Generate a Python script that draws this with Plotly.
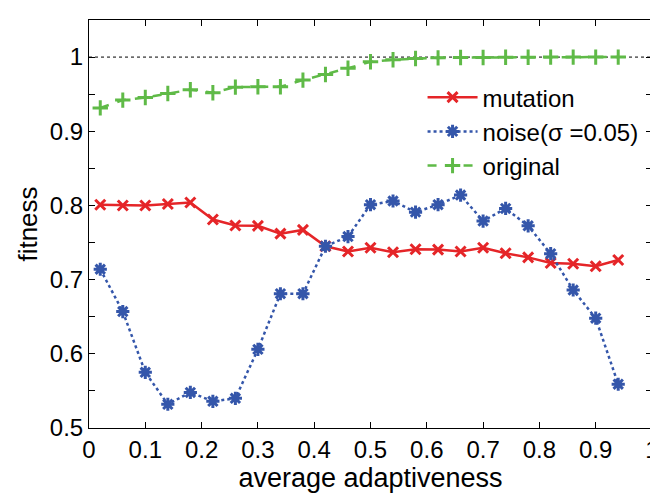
import plotly.graph_objects as go

x_vals = [0.02, 0.06, 0.10, 0.14, 0.18, 0.22, 0.26, 0.30, 0.34, 0.38, 0.42, 0.46,
          0.50, 0.54, 0.58, 0.62, 0.66, 0.70, 0.74, 0.78, 0.82, 0.86, 0.90, 0.94]

mutation = [0.801, 0.800, 0.800, 0.802, 0.804, 0.781, 0.773, 0.7725, 0.762, 0.767, 0.745, 0.738,
            0.743, 0.737, 0.741, 0.7405, 0.738, 0.743, 0.7355, 0.730, 0.7225, 0.7215, 0.718, 0.7265]

noise = [0.714, 0.657, 0.575, 0.532, 0.548, 0.536, 0.540, 0.606, 0.681, 0.681, 0.745, 0.758,
         0.801, 0.806, 0.791, 0.801, 0.814, 0.779, 0.796, 0.7725, 0.735, 0.686, 0.648, 0.559]

original = [0.9315, 0.942, 0.9455, 0.951, 0.956, 0.952, 0.9595, 0.960, 0.960, 0.969, 0.9765, 0.985,
            0.9937, 0.9964, 0.998, 0.999, 0.9995, 0.9995, 0.9998, 0.9998, 1.0, 1.0, 1.0, 1.0]

series_names = ["mutation", "noise(σ =0.05)", "original"]
reference_level = 1.0
x_ticks = [0, 0.1, 0.2, 0.3, 0.4, 0.5, 0.6, 0.7, 0.8, 0.9, 1]
x_tick_text = ["0", "0.1", "0.2", "0.3", "0.4", "0.5", "0.6", "0.7", "0.8", "0.9", "1"]
y_ticks = [0.5, 0.6, 0.7, 0.8, 0.9, 1.0]
y_tick_text = ["0.5", "0.6", "0.7", "0.8", "0.9", "1"]

FONT = "Liberation Sans, Arial, Helvetica, sans-serif"
RED = "#e52528"
BLUE = "#3456aa"
GREEN = "#5fba47"

fig = go.Figure()

fig.add_trace(go.Scatter(
    x=x_vals, y=mutation, name=series_names[0], mode="lines+markers",
    line=dict(color=RED, width=2.5, dash="solid"),
    marker=dict(symbol="x-thin-open", size=10, line=dict(color=RED, width=3)),
))
fig.add_trace(go.Scatter(
    x=x_vals, y=noise, name=series_names[1], mode="lines+markers",
    line=dict(color=BLUE, width=2.5, dash="dot"),
    marker=dict(symbol="asterisk-open", size=11, line=dict(color=BLUE, width=3)),
))
fig.add_trace(go.Scatter(
    x=x_vals, y=original, name=series_names[2], mode="lines+markers",
    line=dict(color=GREEN, width=2.5, dash="dash"),
    marker=dict(symbol="cross-thin-open", size=11, line=dict(color=GREEN, width=3)),
))

fig.add_shape(type="line", xref="paper", yref="y", x0=0, x1=1,
              y0=reference_level, y1=reference_level,
              line=dict(color="black", width=1, dash="dot"), layer="below")

axis_common = dict(
    showgrid=False, zeroline=False, showline=True, linecolor="black", linewidth=1,
    mirror="allticks", ticks="inside", ticklen=6, tickcolor="black", tickwidth=1,
    tickfont=dict(family=FONT, size=24, color="black"),
)

fig.update_xaxes(
    range=[0, 1], tickvals=x_ticks, ticktext=x_tick_text,
    title=dict(text="average adaptiveness", font=dict(family=FONT, size=27, color="black"), standoff=4),
    **axis_common,
)
fig.update_yaxes(
    range=[0.5, 1.05], tickvals=y_ticks, ticktext=y_tick_text,
    minor=dict(dtick=0.05, ticks="inside", ticklen=6, tickcolor="black", showgrid=False),
    title=dict(text="fitness", font=dict(family=FONT, size=26, color="black"), standoff=4),
    **axis_common,
)

fig.update_layout(
    width=658, height=495,
    margin=dict(l=81, r=14, t=12, b=75, autoexpand=False),
    paper_bgcolor="white", plot_bgcolor="white",
    font=dict(family=FONT, size=24, color="black"),
    showlegend=True,
    legend=dict(
        x=0.985, y=0.865, xanchor="right", yanchor="top",
        bgcolor="rgba(0,0,0,0)", borderwidth=0,
        font=dict(family=FONT, size=24, color="black"),
        itemwidth=50, tracegroupgap=0,
    ),
)

fig.write_html("out.html")
